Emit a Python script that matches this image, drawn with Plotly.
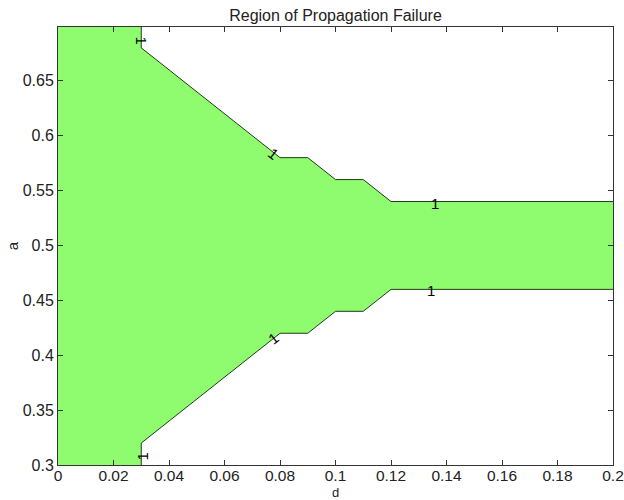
import plotly.graph_objects as go

# Boundary of the propagation-failure region (contour level 1)
d_vals = [0.0, 0.03, 0.03, 0.08, 0.09, 0.10, 0.11, 0.12, 0.20]
a_upper = [0.70, 0.70, 0.68, 0.58, 0.58, 0.56, 0.56, 0.54, 0.54]
a_lower = [0.30, 0.30, 0.32, 0.42, 0.42, 0.44, 0.44, 0.46, 0.46]

# Contour labels: (d, a, text, angle)
label_d = [0.136, 0.1345, 0.0300, 0.0775, 0.0775, 0.0305]
label_a = [0.538, 0.459, 0.6865, 0.5835, 0.4155, 0.3075]
label_angle = [0, 0, 90, 38, -38, -90]
label_text = ["1", "1", "1", "1", "1", "1"]

x_ticks = [0, 0.02, 0.04, 0.06, 0.08, 0.1, 0.12, 0.14, 0.16, 0.18, 0.2]
x_ticktext = ["0", "0.02", "0.04", "0.06", "0.08", "0.1", "0.12", "0.14", "0.16", "0.18", "0.2"]
y_ticks = [0.3, 0.35, 0.4, 0.45, 0.5, 0.55, 0.6, 0.65]
y_ticktext = ["0.3", "0.35", "0.4", "0.45", "0.5", "0.55", "0.6", "0.65"]

green = "rgb(142,252,110)"
line_col = "rgb(30,60,20)"
FONT = "Liberation Sans, Arial"

fig = go.Figure()

poly_x = d_vals + d_vals[::-1]
poly_y = a_upper + a_lower[::-1]
fig.add_trace(go.Scatter(x=poly_x, y=poly_y, mode="lines", fill="toself",
                         fillcolor=green, line=dict(width=0), hoverinfo="skip",
                         showlegend=False))
fig.add_trace(go.Scatter(x=d_vals[1:], y=a_upper[1:], mode="lines",
                         line=dict(color=line_col, width=1), showlegend=False))
fig.add_trace(go.Scatter(x=d_vals[1:], y=a_lower[1:], mode="lines",
                         line=dict(color=line_col, width=1), showlegend=False))

for xd, ya, t, ang in zip(label_d, label_a, label_text, label_angle):
    fig.add_annotation(x=xd, y=ya, text=t, textangle=ang, showarrow=False,
                       font=dict(family=FONT, size=15, color="black"),
                       xanchor="center", yanchor="middle")

axis_common = dict(showline=True, linecolor="#333", linewidth=1, mirror="ticks",
                   ticks="inside", ticklen=5, tickcolor="#333", showgrid=False,
                   zeroline=False, automargin=False, ticklabeloverflow="allow")

fig.update_xaxes(range=[0, 0.2], tickvals=x_ticks, ticktext=x_ticktext,
                 ticklabelstandoff=-4,
                 tickfont=dict(family=FONT, size=15.5, color="#222"),
                 **axis_common)
fig.update_yaxes(range=[0.3, 0.699], tickvals=y_ticks, ticktext=y_ticktext,
                 tickfont=dict(family=FONT, size=16, color="#222"),
                 title=dict(text="a", standoff=0,
                            font=dict(family=FONT, size=15, color="#222")),
                 **axis_common)

# x-axis title placed just below the tick labels
fig.add_annotation(x=0.5, xref="paper", y=0, yref="paper", yshift=-36,
                   text="d", showarrow=False, xanchor="center", yanchor="bottom",
                   borderpad=0,
                   font=dict(family=FONT, size=13, color="#222"))

fig.update_layout(
    width=624, height=500,
    margin=dict(l=58, r=11, t=27, b=35),
    paper_bgcolor="white", plot_bgcolor="white",
    title=dict(text="Region of Propagation Failure", x=0.5, xref="paper",
               y=1, yref="paper", yanchor="bottom", pad=dict(b=6),
               font=dict(family=FONT, size=16, color="#222")),
)

fig.write_html("out.html")
